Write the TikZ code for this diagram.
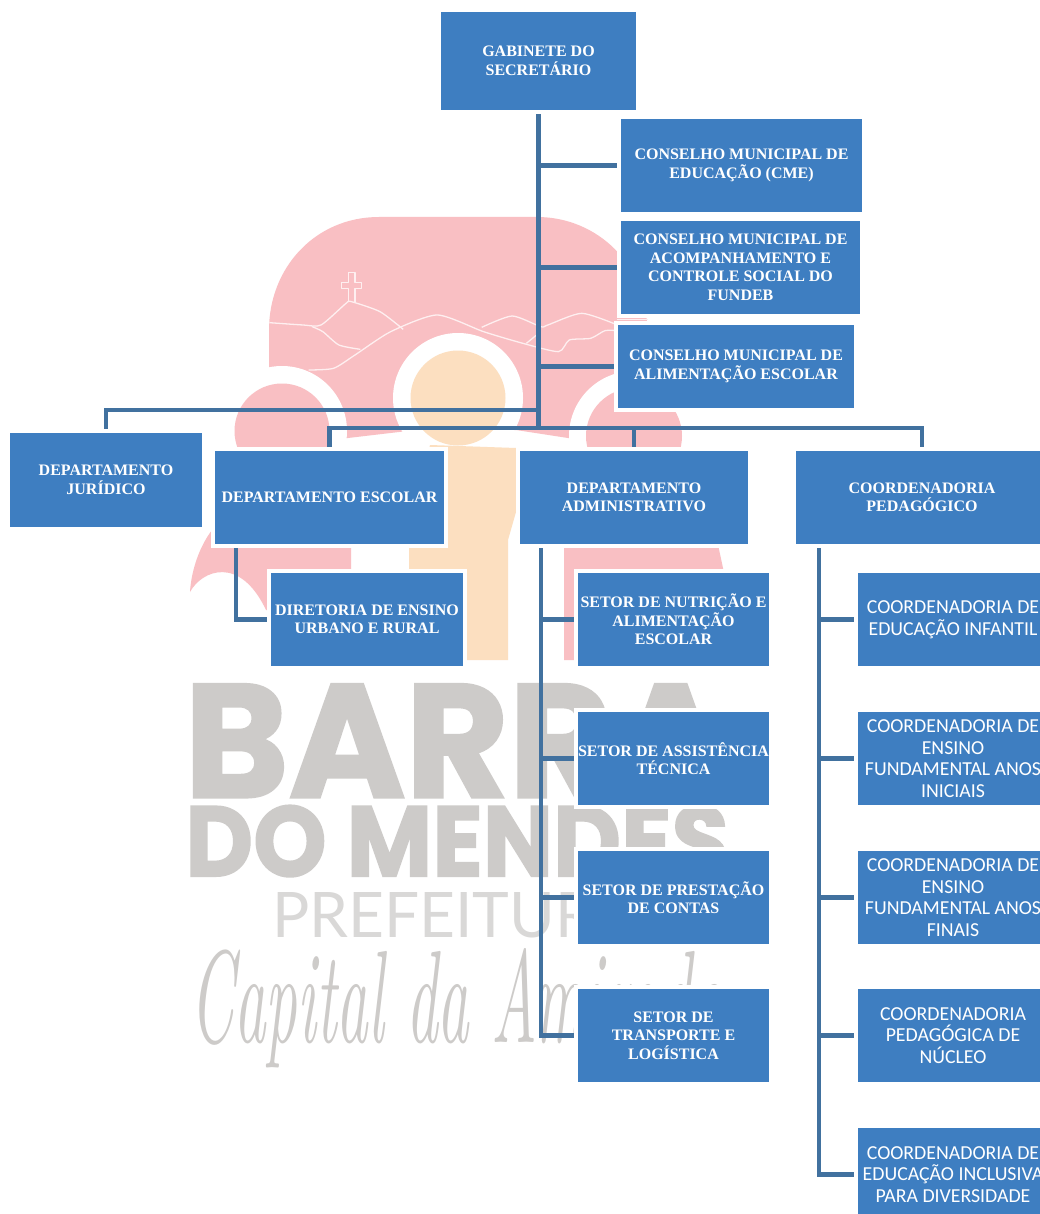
\documentclass[tikz,border=0pt]{standalone}
\usepackage{fontspec}
\usepackage{graphicx}
\usetikzlibrary{calc}
\newfontfamily\serifb{Liberation Serif}
\newfontfamily\calib{Carlito}
\newfontfamily\heavy{Poppins}[FakeBold=1.6]
\newfontfamily\lightsans{Lato}
\definecolor{boxblue}{HTML}{3E7EC1}
\definecolor{linkblue}{HTML}{41719F}
\definecolor{wmpink}{HTML}{F9BFC3}
\definecolor{wmpeach}{HTML}{FCDFC0}
\definecolor{wmgray}{HTML}{CDCBC9}
\definecolor{wmlight}{HTML}{D9D8D7}
\pgfdeclarelayer{wm}
\pgfdeclarelayer{conn}
\pgfsetlayers{wm,conn,main}
\tikzset{
  orgbox/.style={fill=boxblue,draw=white,line width=4pt,text=white,align=center,inner sep=0pt},
  sbox/.style={orgbox,font=\serifb\bfseries\fontsize{16}{18.5}\selectfont},
  cbox/.style={orgbox,font=\calib\fontsize{19.8}{21.5}\selectfont},
  link/.style={draw=linkblue,line width=4.7pt,line join=miter,line cap=butt},
  ridge/.style={draw=white!75!wmpink,line width=1.3pt,line join=round},
}
\begin{document}
\begin{tikzpicture}[x=1pt,y=-1pt]
\useasboundingbox (0,0) rectangle (1039,1214);
\begin{pgfonlayer}{wm}
  \fill[white] (0,0) rectangle (1039,1214);
  % big head shape
  \fill[wmpink] (269,445) -- (269,330) .. controls (269,268) and (315,217) .. (379,217)
     -- (537,217) .. controls (598,217) and (647,266) .. (647,327) -- (647,445) -- (568,438) -- (516,430) -- (416,430) -- (348,438) -- cycle;
  \fill[white] (282,431) circle[radius=65];
  \fill[white] (634,436) circle[radius=65];
  \fill[white] (458,398) circle[radius=65];
  \fill[wmpink] (282,431) circle[radius=47.5];
  \fill[wmpink] (634,436) circle[radius=48];
  % ridge lines
  \begin{scope}[shift={(180,200)},x=0.3571pt,y=-0.3333pt]
    \draw[ridge] plot[smooth,tension=0.4] coordinates {(250,368)(345,375)(395,375)(465,310)(480,305)(560,335)(625,388)};
    \draw[ridge] plot[smooth,tension=0.4] coordinates {(370,380)(400,395)(445,435)(505,448)};
    \draw[ridge] plot[smooth,tension=0.4] coordinates {(360,510)(430,505)(490,465)(590,395)(720,345)(850,395)(960,430)(1060,455)(1090,420)(1150,415)(1190,392)(1225,392)};
    \draw[ridge] plot[smooth,tension=0.4] coordinates {(845,382)(930,348)(1010,380)(1030,375)(1125,340)(1225,375)};
    \draw[ridge] (970,430) -- (1010,395);
    \draw[ridge] (1225,358) -- (1310,358);
    \draw[ridge] (472,305) -- (472,265) -- (452,265) -- (452,248) -- (472,248) -- (472,218) -- (490,218) -- (490,248) -- (508,248) -- (508,265) -- (490,265) -- (490,305);
  \end{scope}
  % lower bodies
  \fill[wmpink] (212,530) .. controls (197,550) and (191,575) .. (190,592) .. controls (202,570) and (240,555) .. (266,610) -- (351,610) -- (351,530) -- cycle;
  \fill[wmpink] (564,540) -- (564,660) -- (580,660) -- (730,620) -- (723,568) -- (717,540) -- cycle;
  \fill[wmpeach] (458,398) circle[radius=47.5];
  \fill[wmpeach] (430,445) -- (516,448) -- (516,512) -- (508,540) -- (508,660) -- (467,660) -- (467,600) -- (409,600) -- (409,540) -- cycle;
  % wordmark
  \node[anchor=north west,inner sep=0pt,text=wmgray] at (184,684) {\resizebox{544pt}{113pt}{\heavy\bfseries BARRA}};
  \node[anchor=north west,inner sep=0pt,text=wmgray] at (185,805) {\resizebox{544pt}{71pt}{\heavy\bfseries DO MENDES}};
  \node[anchor=north west,inner sep=0pt,text=wmlight] at (272,892) {\resizebox{364pt}{45pt}{\lightsans PREFEITURA}};
  \node[anchor=north west,inner sep=0pt,text=wmgray] at (190,948) {\resizebox{530pt}{94pt}{\rmfamily\itshape Capital da Amizade}};
\end{pgfonlayer}

% nodes (size = visible blue + line width)
\node[sbox,minimum width=199pt,minimum height=102pt] (gab) at (538.5,61) {GABINETE DO\\SECRETÁRIO};
\node[sbox,minimum width=245pt,minimum height=97pt] (cme) at (741.5,165.5) {CONSELHO MUNICIPAL DE\\EDUCAÇÃO (CME)};
\node[sbox,minimum width=243pt,minimum height=97pt] (fun) at (740.5,267.5) {CONSELHO MUNICIPAL DE\\ACOMPANHAMENTO E\\CONTROLE SOCIAL DO\\FUNDEB};
\node[sbox,minimum width=240pt,minimum height=87pt] (cae) at (736,366.5) {CONSELHO MUNICIPAL DE\\ALIMENTAÇÃO ESCOLAR};
\node[sbox,minimum width=196pt,minimum height=98pt] (jur) at (106,480) {DEPARTAMENTO\\JURÍDICO};
\node[sbox,minimum width=233pt,minimum height=97pt] (esc) at (329.5,497.5) {DEPARTAMENTO ESCOLAR};
\node[sbox,minimum width=232pt,minimum height=97pt] (adm) at (634,497.5) {DEPARTAMENTO\\ADMINISTRATIVO};
\node[sbox,minimum width=256pt,minimum height=97pt] (coo) at (922,497.5) {COORDENADORIA\\PEDAGÓGICO};
\node[sbox,minimum width=196pt,minimum height=97pt] (dir) at (367,619.5) {DIRETORIA DE ENSINO\\URBANO E RURAL};
\node[sbox,minimum width=195pt,minimum height=97pt] (s1) at (673.5,619.5) {SETOR DE NUTRIÇÃO E\\ALIMENTAÇÃO\\ESCOLAR};
\node[sbox,minimum width=195pt,minimum height=97pt] (s2) at (673.5,758.5) {SETOR DE ASSISTÊNCIA\\TÉCNICA};
\node[sbox,minimum width=195pt,minimum height=97pt] (s3) at (673.5,897.5) {SETOR DE PRESTAÇÃO\\DE CONTAS};
\node[sbox,minimum width=195pt,minimum height=97pt] (s4) at (673.5,1035.5) {SETOR DE\\TRANSPORTE E\\LOGÍSTICA};
\node[cbox,minimum width=194pt,minimum height=97pt] (c1) at (953,619.5) {COORDENADORIA DE\\EDUCAÇÃO INFANTIL};
\node[cbox,minimum width=194pt,minimum height=97pt] (c2) at (953,758.5) {COORDENADORIA DE\\ENSINO\\FUNDAMENTAL ANOS\\INICIAIS};
\node[cbox,minimum width=194pt,minimum height=97pt] (c3) at (953,897.5) {COORDENADORIA DE\\ENSINO\\FUNDAMENTAL ANOS\\FINAIS};
\node[cbox,minimum width=194pt,minimum height=97pt] (c4) at (953,1035.5) {COORDENADORIA\\PEDAGÓGICA DE\\NÚCLEO};
\node[cbox,minimum width=194pt,minimum height=97pt] (c5) at (953,1174.5) {COORDENADORIA DE\\EDUCAÇÃO INCLUSIVA\\PARA DIVERSIDADE};

\coordinate (hub) at (538.5,428);
\coordinate (jbus) at (538.5,410);
\begin{pgfonlayer}{conn}
  \draw[link] (gab.south) -- ([yshift=2.35pt]hub);
  \draw[link] (gab.south |- cme.west) -- (cme.west);
  \draw[link] (gab.south |- fun.west) -- (fun.west);
  \draw[link] (gab.south |- cae.west) -- (cae.west);
  \draw[link] (jur.north) -- (jur.north |- jbus) -- (jbus);
  \draw[link] (esc.north) -- (esc.north |- hub) -- (coo.north |- hub) -- (coo.north);
  \draw[link] (adm.north |- hub) -- (adm.north);
  \draw[link] ([xshift=25pt]esc.south west) |- (dir.west);
  \draw[link] ([xshift=25pt]adm.south west) |- (s4.west);
  \draw[link] ([xshift=25pt]adm.south west |- s1.west) -- (s1.west);
  \draw[link] ([xshift=25pt]adm.south west |- s2.west) -- (s2.west);
  \draw[link] ([xshift=25pt]adm.south west |- s3.west) -- (s3.west);
  \draw[link] ([xshift=27pt]coo.south west) |- (c5.west);
  \draw[link] ([xshift=27pt]coo.south west |- c1.west) -- (c1.west);
  \draw[link] ([xshift=27pt]coo.south west |- c2.west) -- (c2.west);
  \draw[link] ([xshift=27pt]coo.south west |- c3.west) -- (c3.west);
  \draw[link] ([xshift=27pt]coo.south west |- c4.west) -- (c4.west);
\end{pgfonlayer}
\end{tikzpicture}
\end{document}
